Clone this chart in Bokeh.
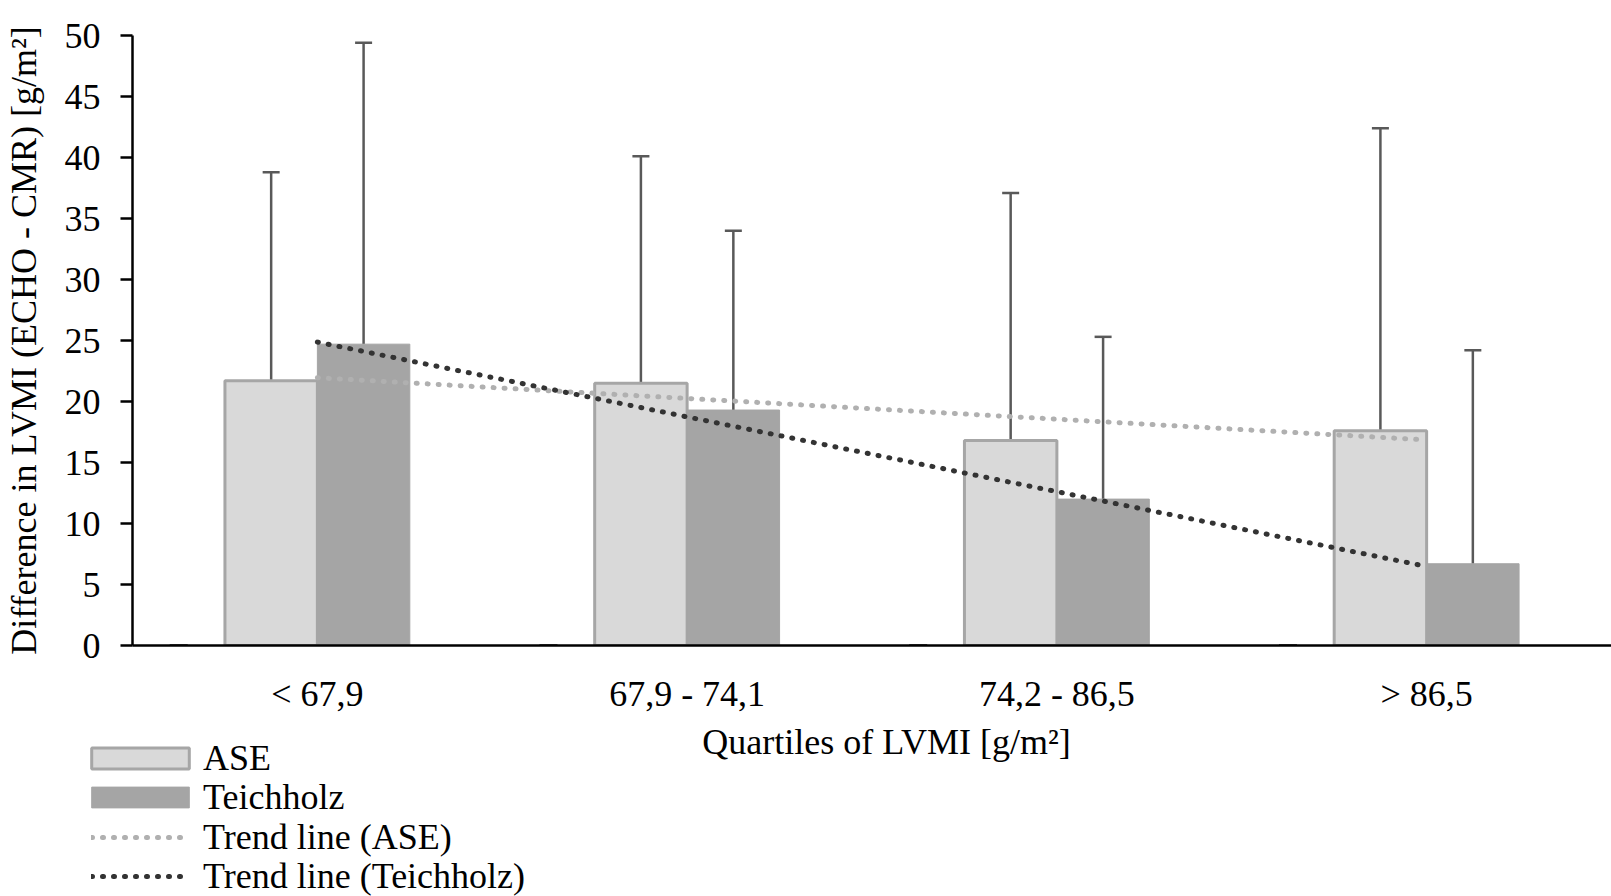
import numpy as np
from bokeh.plotting import figure
from bokeh.layouts import column
from bokeh.models import (ColumnDataSource, FactorRange, Range1d, FixedTicker,
                          Legend, LegendItem, Whisker, TeeHead)
from bokeh.transform import dodge
from bokeh.core.properties import value
from bokeh.embed import file_html
from bokeh.resources import INLINE

# ---------------- data ----------------
categories = ["< 67,9", "67,9 - 74,1", "74,2 - 86,5", "> 86,5"]
ase_mean = [21.7, 21.5, 16.8, 17.6]
ase_sd = [17.1, 18.6, 20.3, 24.8]
teich_mean = [24.7, 19.3, 12.0, 6.7]
teich_sd = [24.7, 14.7, 13.3, 17.5]
blank_mean = [0, 0, 0, 0]
y_ticks = [0, 5, 10, 15, 20, 25, 30, 35, 40, 45, 50]
series_labels = ["ASE", "Teichholz", "Trend line (ASE)", "Trend line (Teichholz)"]
x_title = "Quartiles of LVMI [g/m²]"
y_title = "Difference in LVMI (ECHO - CMR) [g/m²]"

# linear trend lines (least squares over quartile index, as in the spreadsheet)
idx = np.arange(1, len(categories) + 1)
ase_fit = np.polyval(np.polyfit(idx, ase_mean, 1), idx)
teich_fit = np.polyval(np.polyfit(idx, teich_mean, 1), idx)

src = ColumnDataSource(dict(
    cat=categories,
    ase=ase_mean,
    ase_hi=[m + s for m, s in zip(ase_mean, ase_sd)],
    teich=teich_mean,
    teich_hi=[m + s for m, s in zip(teich_mean, teich_sd)],
    blank=blank_mean,
    ase_trend=list(ase_fit),
    teich_trend=list(teich_fit),
))

FONT = "Liberation Serif"
FS = "36px"
W = 1611
H_MAIN = 716
H_LEG = 180
TREND_DASH = "1 10"
TREND_W = 5

ASE_FILL, ASE_LINE = "#d9d9d9", "#a6a6a6"
TEI_FILL = "#a5a5a5"
ERR = "#595959"
ASE_TREND, TEI_TREND = "#b0b0b0", "#333333"

p = figure(x_range=FactorRange(*categories), y_range=Range1d(0, 50),
           width=W, height=H_MAIN, output_backend="svg", toolbar_location=None,
           min_border_left=132, min_border_right=0, min_border_top=35,
           min_border_bottom=71)
p.frame_align = False
p.outline_line_color = None
p.xgrid.grid_line_color = None
p.ygrid.grid_line_color = None

# bars
p.vbar(x=dodge("cat", -0.125, range=p.x_range), top="ase", bottom=0, width=0.25,
       source=src, fill_color=ASE_FILL, line_color=ASE_LINE, line_width=3)
p.vbar(x=dodge("cat", 0.125, range=p.x_range), top="teich", bottom=0, width=0.25,
       source=src, fill_color=TEI_FILL, line_color=TEI_FILL, line_width=1)

# zero-height series error caps at the baseline
p.scatter(x=dodge("cat", -0.375, range=p.x_range), y="blank", source=src, marker="dash",
          size=18, line_color=ERR, line_width=3)

# error bars (upper only)
for col, hi, off in (("ase", "ase_hi", -0.125), ("teich", "teich_hi", 0.125)):
    p.add_layout(Whisker(source=src, base=dodge("cat", off, range=p.x_range), lower=col, upper=hi,
                         line_color=ERR, line_width=2.5,
                         upper_head=TeeHead(size=17, line_color=ERR, line_width=2.5),
                         lower_head=None))

# trend lines
p.line(x="cat", y="ase_trend", source=src, line_color=ASE_TREND, line_width=TREND_W,
       line_dash=TREND_DASH, line_cap="round")
p.line(x="cat", y="teich_trend", source=src, line_color=TEI_TREND, line_width=TREND_W,
       line_dash=TREND_DASH, line_cap="round")

# axes
xa = p.xaxis[0]
xa.axis_line_color = "black"
xa.axis_line_width = 2.5
xa.major_tick_line_color = None
xa.minor_tick_line_color = None
xa.major_tick_out = 0
xa.major_tick_in = 0
xa.major_label_text_font = FONT
xa.major_label_text_font_size = FS
xa.major_label_text_color = "black"
xa.major_label_standoff = 28

ya = p.yaxis[0]
ya.ticker = FixedTicker(ticks=y_ticks)
ya.axis_line_color = "black"
ya.axis_line_width = 2.5
ya.major_tick_line_color = "black"
ya.major_tick_line_width = 2.5
ya.major_tick_out = 12
ya.major_tick_in = 0
ya.minor_tick_line_color = None
ya.major_label_text_font = FONT
ya.major_label_text_font_size = FS
ya.major_label_text_color = "black"
ya.major_label_standoff = 20
ya.axis_label = y_title
ya.axis_label_text_font = FONT
ya.axis_label_text_font_size = FS
ya.axis_label_text_font_style = "normal"
ya.axis_label_text_color = "black"
ya.axis_label_standoff = 18

# ---------------- lower strip: x-axis title and legend ----------------
p2 = figure(x_range=Range1d(0, W), y_range=Range1d(0, H_LEG), width=W, height=H_LEG,
            output_backend="svg", toolbar_location=None, x_axis_type=None, y_axis_type=None,
            min_border_left=0, min_border_right=0, min_border_top=0, min_border_bottom=0)
p2.frame_align = False
p2.outline_line_color = None
p2.xgrid.grid_line_color = None
p2.ygrid.grid_line_color = None

title_src = ColumnDataSource(dict(x=[886], y=[H_LEG - 25], t=[x_title]))
p2.text(x="x", y="y", text="t", source=title_src, text_font=value(FONT),
        text_font_size=FS, text_color="black", text_align="center",
        text_baseline="alphabetic")

# legend proxies (no visible data, only their styles are used by the legend)
r_ase = p2.vbar(x=[np.nan], top=[np.nan], width=1, fill_color=ASE_FILL, line_color=ASE_LINE,
                line_width=3)
r_tei = p2.vbar(x=[np.nan], top=[np.nan], width=1, fill_color=TEI_FILL, line_color=TEI_FILL,
                line_width=1)
r_ase_t = p2.line(x=[np.nan], y=[np.nan], line_color=ASE_TREND, line_width=TREND_W,
                  line_dash=TREND_DASH, line_cap="round")
r_tei_t = p2.line(x=[np.nan], y=[np.nan], line_color=TEI_TREND, line_width=TREND_W,
                  line_dash=TREND_DASH, line_cap="round")

ROW_H = 42                     # rendered height of one legend row
row_centers = [42, 81, 121, 160]   # px below the top of the strip
rows = [
    (series_labels[0], r_ase, 79, 122, 2),
    (series_labels[1], r_tei, 79, 122, 2),
    (series_labels[2], r_ase_t, 91, 98, 14),
    (series_labels[3], r_tei_t, 91, 98, 14),
]
for (label, r, x0, gw, so), cy in zip(rows, row_centers):
    leg = Legend(items=[LegendItem(label=label, renderers=[r])],
                 location=(x0, H_LEG - cy - ROW_H // 2), orientation="vertical",
                 label_text_font=FONT, label_text_font_size=FS, label_text_color="black",
                 glyph_width=gw, glyph_height=26, label_standoff=so, spacing=0,
                 padding=0, margin=0, border_line_color=None, background_fill_alpha=0)
    p2.add_layout(leg)

open("out.html", "w").write(file_html(column(p, p2, spacing=0), INLINE))
